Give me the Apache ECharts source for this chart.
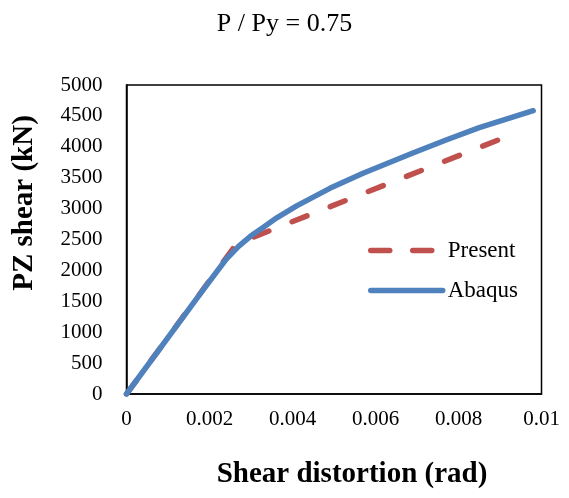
<!DOCTYPE html>
<html>
<head>
<meta charset="utf-8">
<script src="https://cdn.jsdelivr.net/npm/echarts@6/dist/echarts.min.js"></script>
<style>
  html, body { margin: 0; padding: 0; background: #fff; }
  #chart { width: 569px; height: 498px; }
</style>
</head>
<body>
<div id="chart"></div>
<script>
// Panel-zone shear response at axial load ratio 0.75
const titleText = 'P / Py = 0.75';
const xAxisName = 'Shear distortion (rad)';
const yAxisName = 'PZ shear (kN)';

// [shear distortion (rad), PZ shear (kN)]
const presentCurve = [
  [0, 0], [0.00265, 2430], [0.0094, 4228]
];
const abaqusCurve = [
  [0, 0], [0.00185, 1690], [0.0024, 2180], [0.0027, 2390], [0.003, 2560],
  [0.0033, 2700], [0.00362, 2850], [0.0041, 3045], [0.0049, 3328], [0.0057, 3571],
  [0.0061, 3680], [0.0069, 3900], [0.0077, 4110], [0.0085, 4310], [0.0098, 4584]
];

const FONT = 'Liberation Serif';
const chart = echarts.init(document.getElementById('chart'), null, { renderer: 'canvas' });

chart.setOption({
  animation: false,
  backgroundColor: '#ffffff',
  textStyle: { fontFamily: FONT, color: '#000' },
  title: {
    text: titleText,
    left: 'center',
    top: 6,
    textStyle: { fontFamily: FONT, fontWeight: 'normal', fontSize: 26, color: '#000' }
  },
  graphic: [
    {
      type: 'text', x: 352, y: 475,
      style: { text: xAxisName, font: 'bold 29px "Liberation Serif"', fill: '#000',
        textAlign: 'center', textVerticalAlign: 'middle' }
    },
    {
      type: 'text', x: 25, y: 203, rotation: Math.PI / 2,
      style: { text: yAxisName, font: 'bold 29px "Liberation Serif"', fill: '#000',
        textAlign: 'center', textVerticalAlign: 'middle' }
    }
  ],
  grid: {
    left: 126.5, right: 27.5, top: 85, bottom: 104,
    show: true, borderColor: '#000', borderWidth: 1.5, backgroundColor: 'transparent'
  },
  legend: {
    orient: 'vertical',
    left: 363,
    top: 234,
    itemWidth: 72,
    itemHeight: 16,
    itemGap: 17,
    itemStyle: { opacity: 0 },
    lineStyle: { width: 5.5, cap: 'round' },
    textStyle: { fontFamily: FONT, fontSize: 23, color: '#000' },
    data: [
      { name: 'Present', lineStyle: { type: [19, 23], width: 5.5, cap: 'round', color: '#C0504D' } },
      { name: 'Abaqus', lineStyle: { type: 'solid', width: 5.5, cap: 'round', color: '#4F81BD' } }
    ]
  },
  xAxis: {
    type: 'value',
    min: 0, max: 0.01, interval: 0.002,
    axisLine: { show: true, lineStyle: { color: '#000', width: 1.5 } },
    axisTick: { show: false },
    splitLine: { show: false },
    axisLabel: { fontFamily: FONT, fontSize: 21, color: '#000', margin: 15,
      formatter: v => String(+v.toFixed(3)) }
  },
  yAxis: {
    type: 'value',
    min: 0, max: 5000, interval: 500,
    axisLine: { show: true, lineStyle: { color: '#000', width: 1.5 } },
    axisTick: { show: false },
    splitLine: { show: false },
    axisLabel: { fontFamily: FONT, fontSize: 21, color: '#000', margin: 24,
      formatter: v => String(v) }
  },
  series: [
    {
      name: 'Present',
      type: 'line',
      data: presentCurve,
      symbol: 'none',
      color: '#C0504D',
      lineStyle: { color: '#C0504D', width: 5.5, type: [16, 25], cap: 'round' },
      z: 2
    },
    {
      name: 'Abaqus',
      type: 'line',
      data: abaqusCurve,
      symbol: 'none',
      color: '#4F81BD',
      lineStyle: { color: '#4F81BD', width: 5.5, cap: 'round', join: 'round' },
      z: 3
    }
  ]
});
</script>
</body>
</html>
